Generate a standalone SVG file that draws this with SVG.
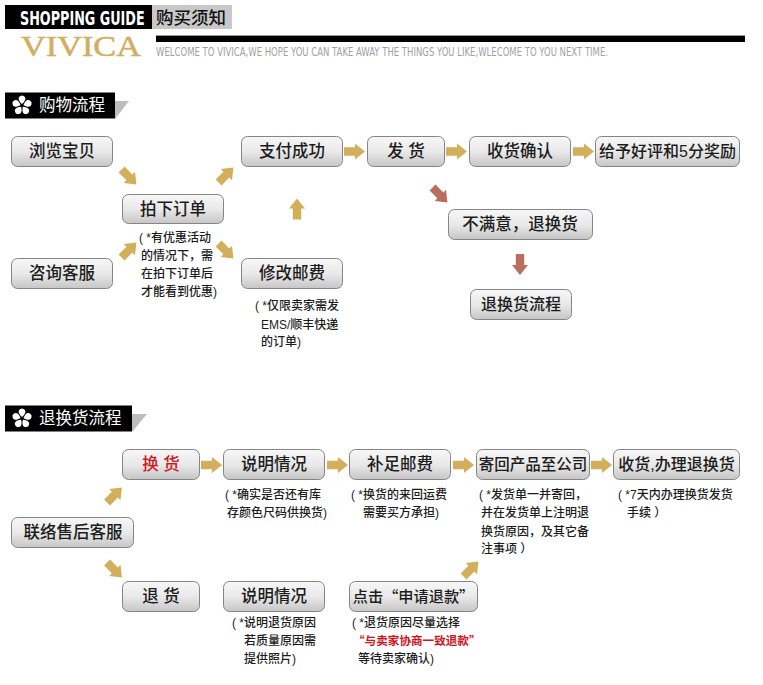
<svg xmlns="http://www.w3.org/2000/svg" width="763" height="685" viewBox="0 0 763 685">
<style>
text{font-family:"Liberation Sans","Noto Sans CJK SC",sans-serif}
.box{fill:url(#btn);stroke:#858585;stroke-width:1}
.lb{font-size:16.5px;fill:#1c1c1c;text-anchor:middle;font-weight:500}
.note{font-size:12px;fill:#1c1c1c;font-weight:500}
.head{font-size:16.5px;fill:#fff;font-weight:400}
.au{fill:#d3af5c}
.br{fill:#b8705c}
.cjk{font-family:"Noto Sans CJK SC",sans-serif}
.wide{font-family:"DejaVu Sans Condensed","DejaVu Sans",sans-serif}
</style>
<defs>
<linearGradient id="btn" x1="0" y1="0" x2="0" y2="1"><stop offset="0" stop-color="#f7f7f7"/><stop offset="0.5" stop-color="#e9e9e9"/><stop offset="1" stop-color="#c6c6c6"/></linearGradient>
<path id="ar" d="M-10.500-4.200H.5V-8L10.500 0 .5 8V4.200H-10.500Z"/>
<path id="pt" d="M0-1.500C-4.200-5-4.800-8.800 0-10 4.800-8.800 4.200-5 0-1.500Z"/>
<g id="flower" fill="#fff"><use href="#pt"/><use href="#pt" transform="rotate(72)"/><use href="#pt" transform="rotate(144)"/><use href="#pt" transform="rotate(216)"/><use href="#pt" transform="rotate(288)"/></g>
</defs>
<rect width="763" height="685" fill="#fff"/>
<g id="banner">
<rect x="5" y="5" width="147" height="24" fill="#000"/>
<rect x="152" y="5" width="80" height="24" fill="#c8c8c8"/>
<text class="wide" transform="translate(20 25) scale(0.71 1)" font-size="20" font-weight="700" fill="#fff">SHOPPING GUIDE</text>
<text class="cjk" x="156" y="24" font-size="17.500" fill="#111" font-weight="500">购买须知</text>
<text x="21" y="55.500" font-size="29" fill="#d2ae62" stroke="#d2ae62" stroke-width="0.5" style="font-family:'Liberation Serif',serif" textLength="120" lengthAdjust="spacingAndGlyphs">VIVICA</text>
<rect x="156" y="35" width="589" height="7" fill="#000"/>
<rect x="156" y="35" width="589" height="1" fill="#999"/>
<text class="wide" x="156" y="56" font-size="11.500" fill="#a0a0a0" textLength="452" lengthAdjust="spacingAndGlyphs">WELCOME TO VIVICA,WE HOPE YOU CAN TAKE AWAY THE THINGS YOU LIKE,WLECOME TO YOU NEXT TIME.</text>
</g>
<g id="head-buy">
<path d="M115 101H129L115 119Z" fill="#bdbdbd"/>
<rect x="5" y="92.500" width="110" height="26" fill="#000"/>
<use href="#flower" transform="translate(22 105.500)"/>
<text x="39" y="111" class="head cjk">购物流程</text>
</g>
<g id="head-return">
<path d="M132 414H147L132 432Z" fill="#bdbdbd"/>
<rect x="5" y="405.500" width="127" height="26" fill="#000"/>
<use href="#flower" transform="translate(22 418.500)"/>
<text x="39" y="424" class="head cjk">退换货流程</text>
</g>
<g id="connectors">
<use href="#ar" class="au" transform="translate(129 177) rotate(45)"/>
<use href="#ar" class="au" transform="translate(226 175) rotate(-45)"/>
<use href="#ar" class="au" transform="translate(129 250) rotate(-45)"/>
<use href="#ar" class="au" transform="translate(226 251) rotate(45)"/>
<use href="#ar" class="au" transform="translate(297 209) rotate(-90)"/>
<use href="#ar" class="au" transform="translate(354.500 151.500)"/>
<use href="#ar" class="au" transform="translate(456.500 151.500)"/>
<use href="#ar" class="au" transform="translate(583.500 151.500)"/>
<use href="#ar" class="br" transform="translate(440 195) rotate(45)"/>
<use href="#ar" class="br" transform="translate(520 264.500) rotate(90)"/>
<use href="#ar" class="au" transform="translate(114.500 495) rotate(-45)"/>
<use href="#ar" class="au" transform="translate(114.500 570) rotate(45)"/>
<use href="#ar" class="au" transform="translate(471 569) rotate(-45)"/>
<use href="#ar" class="au" transform="translate(211.500 465)"/>
<use href="#ar" class="au" transform="translate(337.500 465)"/>
<use href="#ar" class="au" transform="translate(463.500 465)"/>
<use href="#ar" class="au" transform="translate(601.500 465)"/>
</g>
<g id="n-browse"><rect class="box" x="11.500" y="136.500" width="101" height="30" rx="6"/><text class="lb" x="62" y="157">浏览宝贝</text></g>
<g id="n-pay"><rect class="box" x="241.500" y="136.500" width="101" height="30" rx="6"/><text class="lb" x="292" y="157">支付成功</text></g>
<g id="n-ship"><rect class="box" x="367.500" y="136.500" width="77" height="30" rx="6"/><text class="lb" x="406" y="157">发 货</text></g>
<g id="n-confirm"><rect class="box" x="469.500" y="136.500" width="101" height="30" rx="6"/><text class="lb" x="520" y="157">收货确认</text></g>
<g id="n-review"><rect class="box" x="595.500" y="136.500" width="144" height="30" rx="6"/><text class="lb" x="667.500" y="157" style="font-size:16px">给予好评和5分奖励</text></g>
<g id="n-order"><rect class="box" x="122.500" y="194.500" width="101" height="29" rx="6"/><text class="lb" x="173" y="215">拍下订单</text></g>
<g id="n-unhappy"><rect class="box" x="448.500" y="209.500" width="144" height="30" rx="6"/><text class="lb cjk" x="520" y="230">不满意，退换货</text></g>
<g id="n-consult"><rect class="box" x="11.500" y="258.500" width="101" height="30" rx="6"/><text class="lb" x="62" y="279">咨询客服</text></g>
<g id="n-postage"><rect class="box" x="241.500" y="258.500" width="101" height="30" rx="6"/><text class="lb" x="292" y="279">修改邮费</text></g>
<g id="n-flow"><rect class="box" x="470.500" y="289.500" width="101" height="30" rx="6"/><text class="lb" x="521" y="310" style="font-size:16px">退换货流程</text></g>
<g id="note-order"><text class="note" x="139" y="242">( *有优惠活动</text><text class="note" x="141" y="260">的情况下，需</text><text class="note" x="141" y="278">在拍下订单后</text><text class="note" x="141" y="296">才能看到优惠)</text></g>
<g id="note-postage"><text class="note" x="255" y="310">( *仅限卖家需发</text><text class="note" x="261" y="329">EMS/顺丰快递</text><text class="note" x="261" y="346">的订单)</text></g>
<g id="n-exchange"><rect class="box" x="122.500" y="449.500" width="77" height="30" rx="6"/><text class="lb" x="161" y="470" style="fill:#cf1720">换 货</text></g>
<g id="n-explain1"><rect class="box" x="223.500" y="449.500" width="101" height="30" rx="6"/><text class="lb" x="274" y="470">说明情况</text></g>
<g id="n-topup"><rect class="box" x="349.500" y="449.500" width="101" height="30" rx="6"/><text class="lb" x="400" y="470">补足邮费</text></g>
<g id="n-sendback"><rect class="box" x="476.500" y="449.500" width="113" height="30" rx="6"/><text class="lb" x="533" y="470" style="font-size:15.500px">寄回产品至公司</text></g>
<g id="n-receive"><rect class="box" x="613.500" y="449.500" width="126" height="30" rx="6"/><text class="lb" x="676.500" y="470" style="font-size:16px">收货,办理退换货</text></g>
<g id="n-service"><rect class="box" x="11.500" y="517.500" width="122" height="30" rx="6"/><text class="lb" x="73" y="538">联络售后客服</text></g>
<g id="n-refund"><rect class="box" x="122.500" y="581.500" width="77" height="30" rx="6"/><text class="lb" x="161" y="602">退 货</text></g>
<g id="n-explain2"><rect class="box" x="223.500" y="581.500" width="101" height="30" rx="6"/><text class="lb" x="274" y="602">说明情况</text></g>
<g id="n-apply"><rect class="box" x="349.500" y="581.500" width="128" height="30" rx="6"/><text class="lb cjk" x="413.500" y="602" style="font-size:15.200px">点击“申请退款”</text></g>
<g id="note-exchange"><text class="note" x="225" y="499">( *确实是否还有库</text><text class="note" x="227" y="517">存颜色尺码供换货)</text></g>
<g id="note-topup"><text class="note" x="351" y="499">( *换货的来回运费</text><text class="note" x="363" y="517">需要买方承担)</text></g>
<g id="note-sendback"><text class="note" x="479" y="499">( *发货单一并寄回，</text><text class="note" x="481" y="517">并在发货单上注明退</text><text class="note" x="481" y="536">换货原因，及其它备</text><text class="note" x="481" y="553">注事项 ）</text></g>
<g id="note-receive"><text class="note" x="618" y="499">( *7天内办理换货发货</text><text class="note" x="627" y="517">手续 ）</text></g>
<g id="note-explain2"><text class="note" x="232" y="627">( *说明退货原因</text><text class="note" x="244" y="645">若质量原因需</text><text class="note" x="244" y="663">提供照片)</text></g>
<g id="note-apply"><text class="note" x="352" y="627">( *退货原因尽量选择</text><text class="note cjk" x="353" y="645" style="fill:#d0121b;font-weight:700;font-size:11.600px">“与卖家协商一致退款”</text><text class="note" x="358" y="663">等待卖家确认)</text></g>
</svg>
